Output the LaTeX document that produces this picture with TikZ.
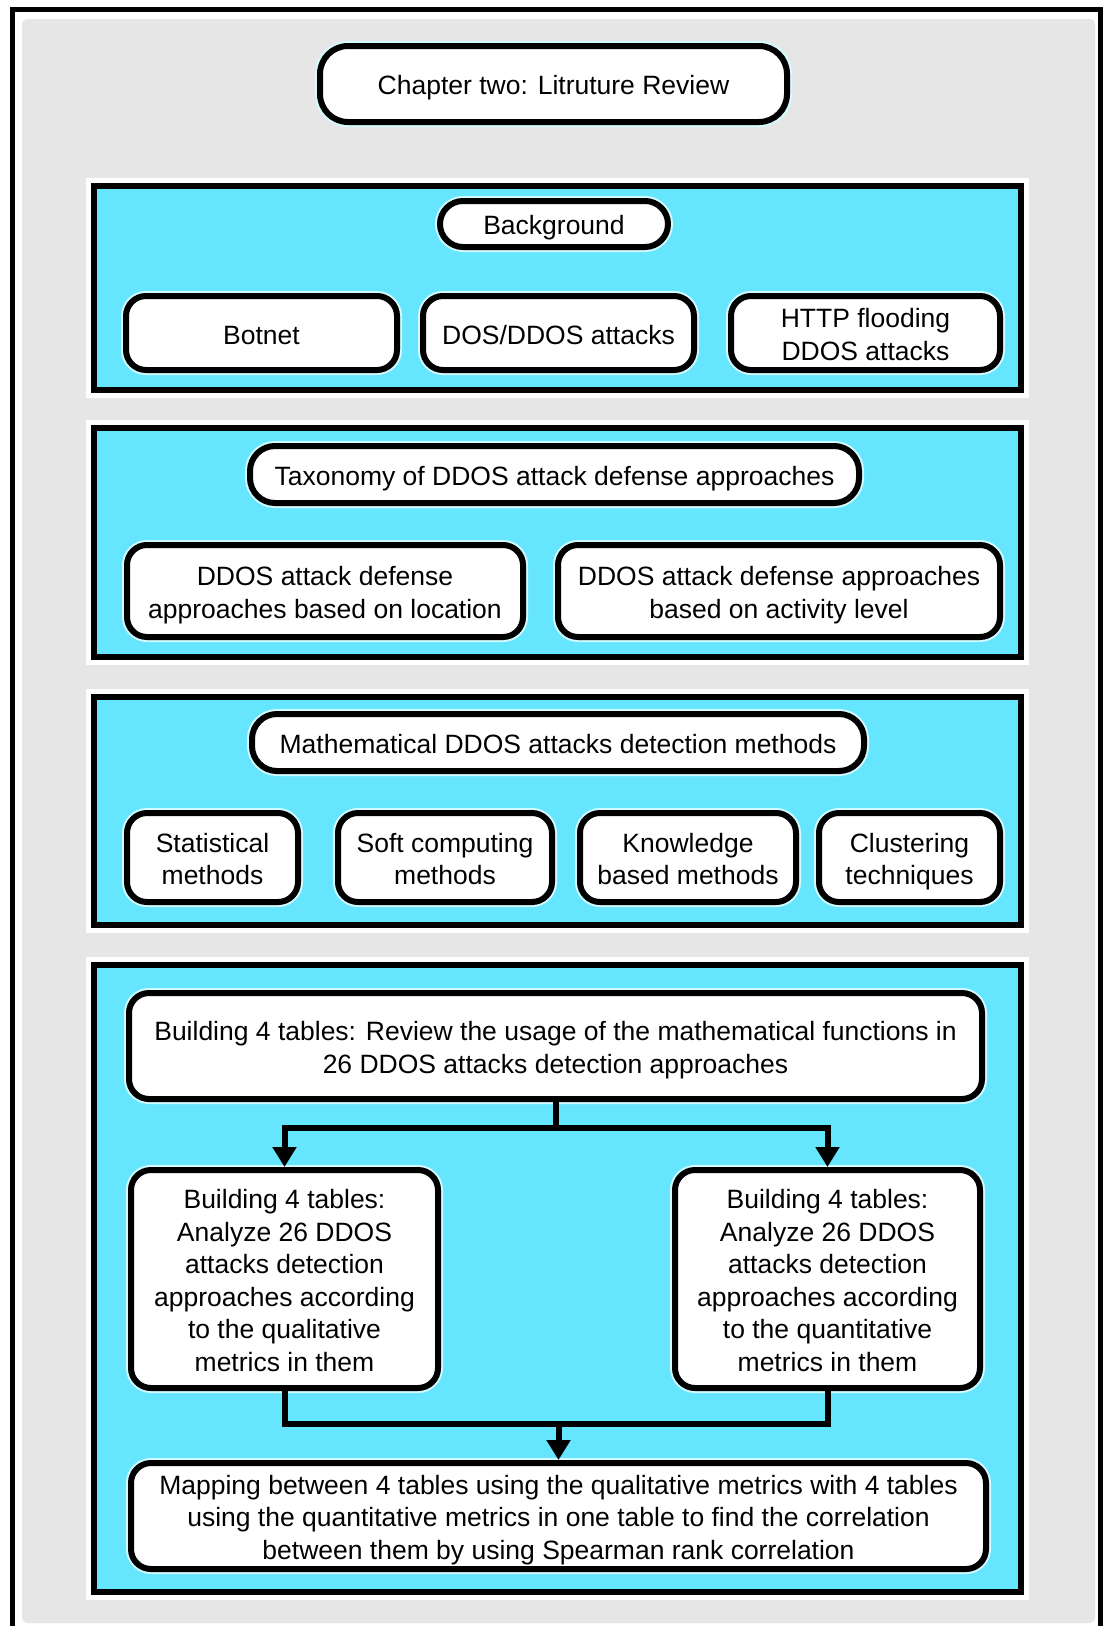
\documentclass[tikz,border=0pt]{standalone}
\usepackage{fontspec}
\setmainfont{Liberation Sans}
\usetikzlibrary{arrows.meta,calc}
\definecolor{cyanfill}{RGB}{102,229,255}
\definecolor{greyfill}{RGB}{230,230,230}
\definecolor{halo}{RGB}{210,250,255}
\newcommand{\ts}{\rule[-5pt]{0pt}{32pt}}
\begin{document}
\begin{tikzpicture}[x=1pt,y=-1pt,
  box/.style={draw=black, line width=6pt, fill=white, rounded corners=20pt, align=center, inner sep=0pt,
    font=\fontsize{26.5}{32.5}\selectfont, preaction={draw=halo, line width=10pt}},
  panel/.style={draw=black, line width=6pt, fill=cyanfill, preaction={draw=white, line width=16pt}},
  conn/.style={line width=6pt},
  arr/.style={line width=6pt, -{Triangle[width=23pt,length=20pt]}}]
\useasboundingbox (0,0) rectangle (1104,1626);
\fill[white] (0,0) rectangle (1104,1626);
\fill[greyfill, rounded corners=5pt] (22,19) rectangle (1095,1623);
\draw[line width=5pt] (12,1630) -- (12,9.5) -- (1100,9.5) -- (1100,1630);
% panels
\draw[panel] (94,186) rectangle (1021,390);
\draw[panel] (94,428) rectangle (1021,657);
\draw[panel] (94,697) rectangle (1021,925);
\draw[panel] (94,965) rectangle (1021,1592);
% title
\node[box, rounded corners=28pt, minimum width=467pt, minimum height=76pt] (title) at (553.5,84) {\ts Chapter two: Litruture Review\ts};
% panel 1
\node[box, rounded corners=23pt, minimum width=228pt, minimum height=46pt] (bg) at (554,224) {\ts Background\ts};
\node[box, minimum width=271pt, minimum height=74pt] (botnet) at (261.5,333) {\ts Botnet\ts};
\node[box, minimum width=271pt, minimum height=74pt] (dos) at (558.5,333) {\ts DOS/DDOS attacks\ts};
\node[box, minimum width=269pt, minimum height=74pt] (http) at (865.5,333) {\ts HTTP flooding\\DDOS attacks\ts};
% panel 2
\node[box, rounded corners=25pt, minimum width=609pt, minimum height=57pt] (tax) at (554.5,474.5) {\ts Taxonomy of DDOS attack defense approaches\ts};
\node[box, minimum width=396pt, minimum height=92pt] (loc) at (325,591) {\ts DDOS attack defense\\approaches based on location\ts};
\node[box, minimum width=442pt, minimum height=92pt] (act) at (779,591) {\ts DDOS attack defense approaches\\based on activity level\ts};
% panel 3
\node[box, rounded corners=25pt, minimum width=612pt, minimum height=57pt] (math) at (558,742.5) {\ts Mathematical DDOS attacks detection methods\ts};
\node[box, minimum width=171pt, minimum height=89pt] (stat) at (212.5,857.5) {\ts Statistical\\methods\ts};
\node[box, minimum width=214pt, minimum height=89pt] (soft) at (445,857.5) {\ts Soft computing\\methods\ts};
\node[box, minimum width=216pt, minimum height=89pt] (know) at (688,857.5) {\ts Knowledge\\based methods\ts};
\node[box, minimum width=181pt, minimum height=89pt] (clus) at (909.5,857.5) {\ts Clustering\\techniques\ts};
% panel 4
\node[box, minimum width=853pt, minimum height=106pt] (top) at (555.5,1046) {\ts Building 4 tables: Review the usage of the mathematical functions in\\26 DDOS attacks detection approaches\ts};
\node[box, minimum width=307pt, minimum height=218pt] (lc) at (284.5,1279) {\ts Building 4 tables:\\Analyze 26 DDOS\\attacks detection\\approaches according\\to the qualitative\\metrics in them\ts};
\node[box, minimum width=305pt, minimum height=218pt] (rc) at (827.5,1279) {\ts Building 4 tables:\\Analyze 26 DDOS\\attacks detection\\approaches according\\to the quantitative\\metrics in them\ts};
\node[box, minimum width=855pt, minimum height=106pt] (bot) at (558.5,1516) {\ts Mapping between 4 tables using the qualitative metrics with 4 tables\\using the quantitative metrics in one table to find the correlation\\between them by using Spearman rank correlation\ts};
% connectors
\coordinate (m1) at ($(top.south)+(0,26)$);
\coordinate (m2) at (558.5,1424);
\draw[conn] (top.south) -- (m1);
\draw[arr] (m1) -| (lc.north);
\draw[arr] (m1) -| (rc.north);
\draw[conn] (lc.south) |- (m2) -| (rc.south);
\draw[arr] (m2) -- (bot.north);
\end{tikzpicture}
\end{document}
